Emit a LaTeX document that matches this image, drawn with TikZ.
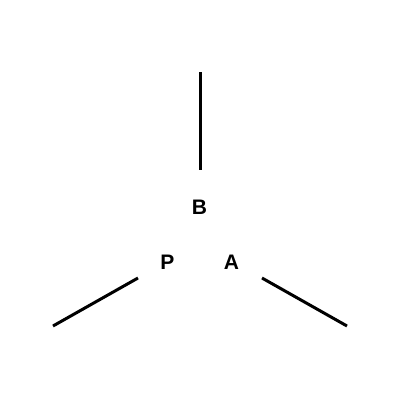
\documentclass[tikz,border=0pt]{standalone}
\usepackage{fontspec}
\setmainfont{Liberation Sans}
\tikzstyle{every path}=[line width=3pt]
\tikzstyle{letter}=[font=\fontsize{21}{24}\selectfont\bfseries, inner sep=0pt]
\definecolor{bondline}{RGB}{0,0,0}

\begin{document}
\begin{tikzpicture}[x=1pt, y=-1pt]
            \useasboundingbox (0,0) rectangle (400,400);
            \node[letter] (B) at (199.5,207) {B};
            \node[letter] (P) at (167.5,262) {P};
            \node[letter] (A) at (231.5,262) {A};

            \coordinate (Btop) at (200,72);
            \coordinate (Bend) at (200,170);
            \coordinate (Pout) at (53,326);
            \coordinate (Pend) at (138,278);
            \coordinate (Aout) at (347,326);
            \coordinate (Aend) at (262,278);

            \draw[bondline] (Btop) -- (Bend);
            \draw[bondline] (Pout) -- (Pend);
            \draw[bondline] (Aout) -- (Aend);
        \end{tikzpicture}
\end{document}
